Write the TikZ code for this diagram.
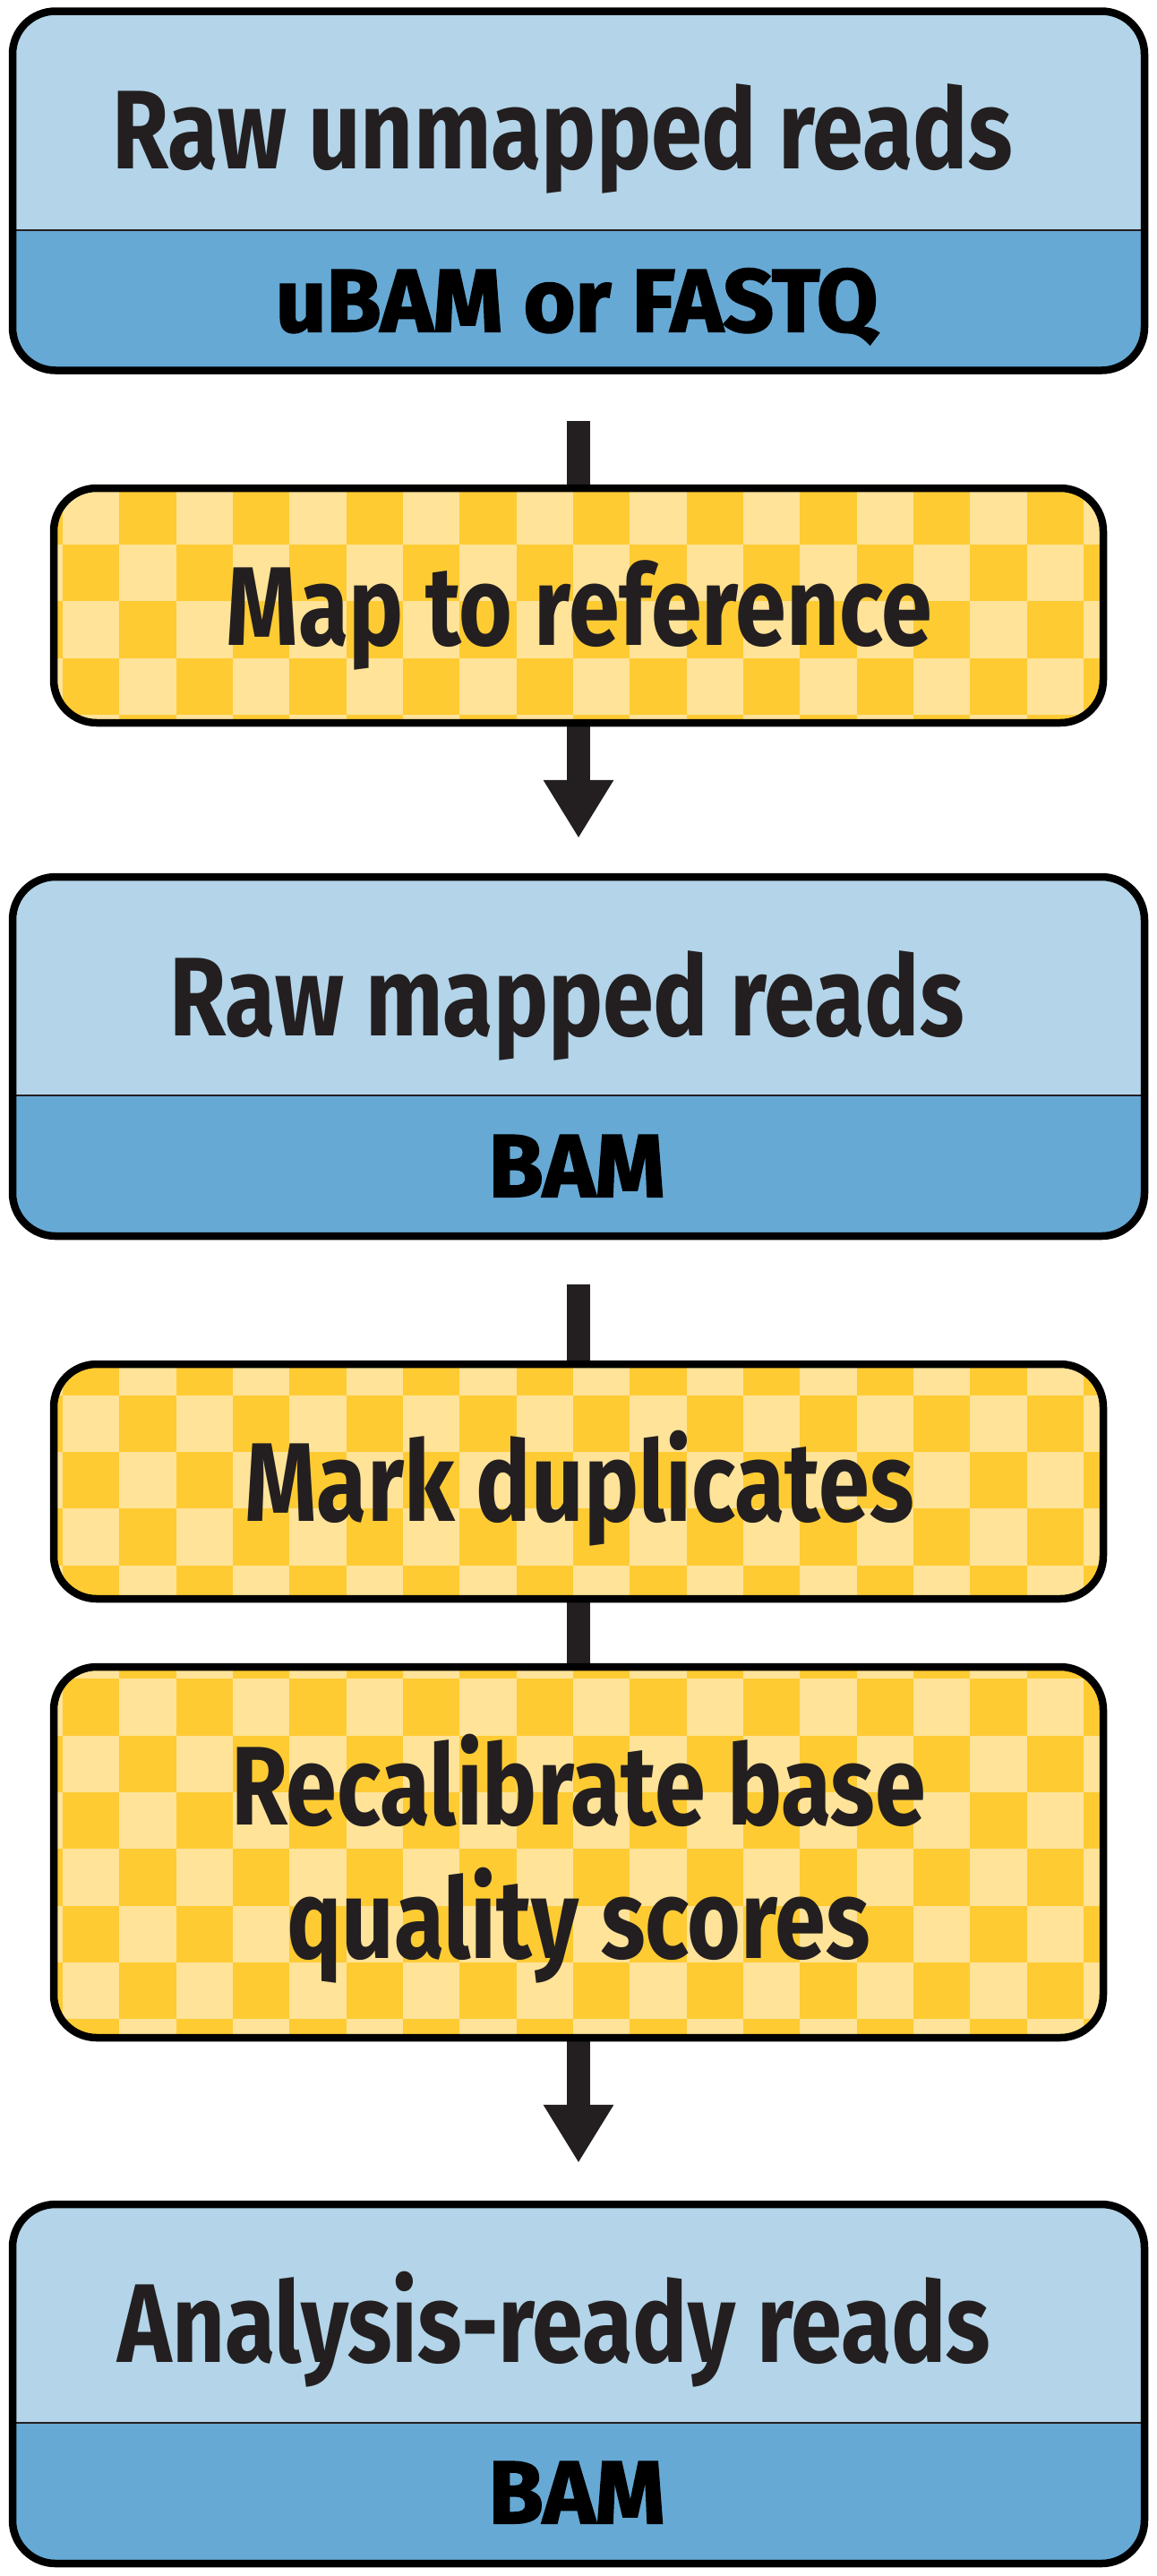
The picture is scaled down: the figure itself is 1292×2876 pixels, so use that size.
\documentclass[tikz,border=0pt]{standalone}
\usepackage{fontspec}
\setmainfont{Fira Sans}
\newfontfamily\titlefont{Fira Sans}[FakeStretch=0.82]
\newfontfamily\formatfont{Fira Sans}[FakeStretch=1.0, FakeBold=2]
\usetikzlibrary{arrows.meta, backgrounds}
\definecolor{rawblue}{HTML}{B3D4E9}
\definecolor{fmtblue}{HTML}{66A9D5}
\definecolor{chkdark}{HTML}{FECB33}
\definecolor{chklight}{HTML}{FEE399}
\definecolor{inkdark}{HTML}{231F20}
\begin{document}
\begin{tikzpicture}[x=1pt, y=-1pt]
		\tikzstyle{box} = [draw=black, line width=8.5pt, inner sep=0pt, rounded corners=48pt]
		\tikzstyle{databox} = [box, minimum width=1264pt, minimum height=401pt, fill=fmtblue, path picture={
			\fill[rawblue, sharp corners] (path picture bounding box.north west) rectangle ([yshift=-244pt]path picture bounding box.north east);
			\draw[inkdark, line width=2pt, sharp corners] ([yshift=-244pt]path picture bounding box.north west) -- ([yshift=-244pt]path picture bounding box.north east);
		}]
		\tikzset{stepbox/.style={box, minimum width=1172pt, fill=chklight, path picture={
			\foreach \r in {0,...,28} \foreach \k in {-1,...,18} {
				\pgfmathtruncatemacro\s{\r+\k}
				\ifodd\s \fill[chkdark, sharp corners] (70-646+63.33*\k, 544.5-#1+63.33*\r) rectangle ++(63.33, 63.33); \fi
			}
		}}}
		\tikzstyle{boxtitle} = [anchor=base, inner sep=0pt, text=inkdark, font=\titlefont\bfseries\fontsize{125}{149}\selectfont, align=center]
		\tikzstyle{fmttext} = [anchor=base, inner sep=0pt, text=black, font=\formatfont\bfseries\fontsize{99}{99}\selectfont]
		\tikzstyle{flow} = [draw=inkdark, line width=26pt, -{Triangle[length=65pt, width=74pt]}]
		\useasboundingbox (0,0) rectangle (1292,2876);
		\node[databox] (raw) at (646,213) {};
		\node[boxtitle] (raw-title) at (628,188) {Raw unmapped reads};
		\node[fmttext] (raw-fmt) at (644,370) {uBAM or FASTQ};
		\node[stepbox=676, minimum height=262pt] (map) at (646,676) {};
		\node[boxtitle] (map-text) at (647,720) {Map to reference};
		\node[databox] (mapped) at (646,1179.5) {};
		\node[boxtitle] (mapped-title) at (633,1156) {Raw mapped reads};
		\node[fmttext] (mapped-fmt) at (644,1336) {BAM};
		\node[stepbox=1654, minimum height=262pt] (markdup) at (646,1654) {};
		\node[boxtitle] (markdup-text) at (647,1698) {Mark duplicates};
		\node[stepbox=2068, minimum height=414pt] (recal) at (646,2068) {};
		\node[boxtitle] (recal-text) at (646,2186) {Recalibrate base\\quality scores};
		\node[databox] (ready) at (646,2661.5) {};
		\node[boxtitle] (ready-title) at (619,2637) {Analysis-ready reads};
		\node[fmttext] (ready-fmt) at (644,2817) {BAM};
		\begin{pgfonlayer}{background}
			\draw[flow, shorten <=52pt, shorten >=39pt] (raw.south) -- (mapped.north);
			\draw[flow, shorten <=50pt, shorten >=42pt] (mapped.south) -- (ready.north);
		\end{pgfonlayer}
\end{tikzpicture}
\end{document}
